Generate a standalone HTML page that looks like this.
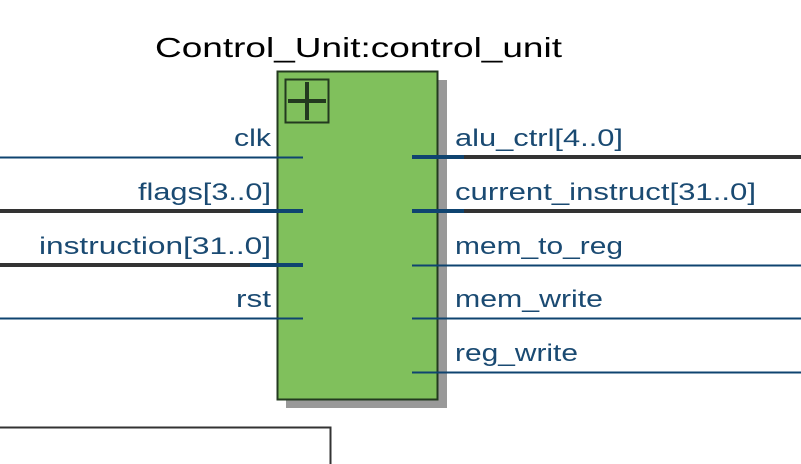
<!DOCTYPE html>
<html><head><style>html,body{margin:0;width:801px;height:464px;overflow:hidden;background:#fff}svg{display:block}</style></head>
<body>
<svg width="801" height="464" xmlns="http://www.w3.org/2000/svg" font-family="Liberation Sans, sans-serif">
<rect width="801" height="464" fill="#fff"/>
<text x="155" y="57" font-size="28" fill="#000" textLength="407" lengthAdjust="spacingAndGlyphs">Control_Unit:control_unit</text>
<rect x="286" y="80" width="161" height="328" fill="#999"/>
<rect x="277.5" y="71.5" width="160" height="328" fill="#80c05c" stroke="#233a1f" stroke-width="2"/>
<rect x="285.5" y="79.5" width="43" height="43" fill="none" stroke="#233a1f" stroke-width="2"/>
<path d="M288 101h38M307 82v38" stroke="#233a1f" stroke-width="4"/>
<g stroke="#0f4470" stroke-width="2">
<line x1="0" y1="157.5" x2="303" y2="157.5"/>
<line x1="0" y1="318.5" x2="303" y2="318.5"/>
<line x1="412" y1="265.5" x2="801" y2="265.5"/>
<line x1="412" y1="318.5" x2="801" y2="318.5"/>
<line x1="412" y1="372.5" x2="801" y2="372.5"/>
</g>
<g stroke-width="4">
<line x1="0" y1="211" x2="250" y2="211" stroke="#333"/><line x1="250" y1="211" x2="303" y2="211" stroke="#0f4470"/>
<line x1="0" y1="265" x2="250" y2="265" stroke="#333"/><line x1="250" y1="265" x2="303" y2="265" stroke="#0f4470"/>
<line x1="412" y1="157" x2="464" y2="157" stroke="#0f4470"/><line x1="464" y1="157" x2="801" y2="157" stroke="#333"/>
<line x1="412" y1="211" x2="464" y2="211" stroke="#0f4470"/><line x1="464" y1="211" x2="801" y2="211" stroke="#333"/>
</g>
<g font-size="24" fill="#1a4a72">
<text x="271" y="146" text-anchor="end" textLength="37" lengthAdjust="spacingAndGlyphs">clk</text>
<text x="271" y="200" text-anchor="end" textLength="133" lengthAdjust="spacingAndGlyphs">flags[3..0]</text>
<text x="271" y="254" text-anchor="end" textLength="232" lengthAdjust="spacingAndGlyphs">instruction[31..0]</text>
<text x="271" y="307" text-anchor="end" textLength="35" lengthAdjust="spacingAndGlyphs">rst</text>
<text x="455" y="146" textLength="168" lengthAdjust="spacingAndGlyphs">alu_ctrl[4..0]</text>
<text x="455" y="200" textLength="301" lengthAdjust="spacingAndGlyphs">current_instruct[31..0]</text>
<text x="455" y="254" textLength="168" lengthAdjust="spacingAndGlyphs">mem_to_reg</text>
<text x="455" y="307" textLength="148" lengthAdjust="spacingAndGlyphs">mem_write</text>
<text x="455" y="361" textLength="123" lengthAdjust="spacingAndGlyphs">reg_write</text>
</g>
<path d="M0 427.5H330.5V464" fill="none" stroke="#333" stroke-width="2"/>
</svg>
</body></html>
